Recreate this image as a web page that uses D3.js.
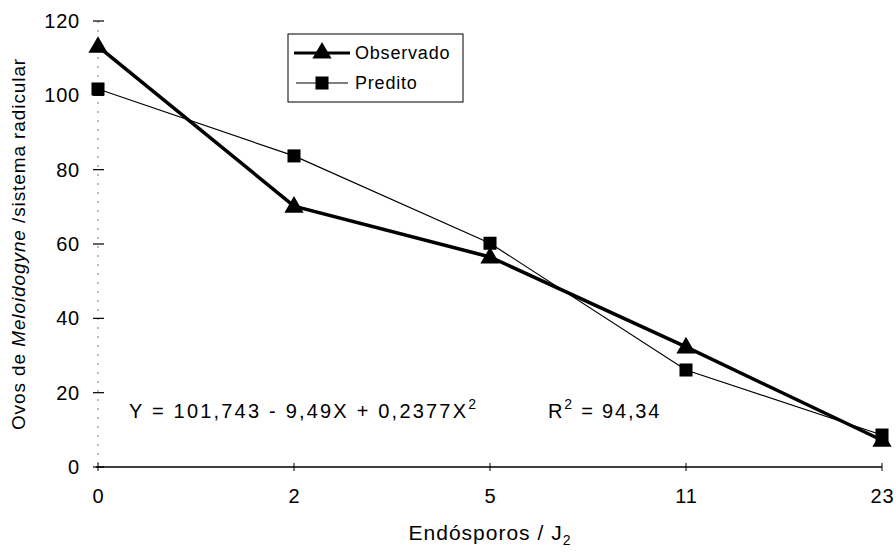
<!DOCTYPE html>
<html>
<head>
<meta charset="utf-8">
<script src="https://cdn.jsdelivr.net/npm/d3@7"></script>
<style>
  body { margin: 0; background: #fff; }
  text { font-family: "Liberation Sans", Arial, sans-serif; fill: #000; }
</style>
</head>
<body>
<div id="chart"></div>
<script>
const categories = ["0", "2", "5", "11", "23"];
const observado = [113.2, 70.2, 56.5, 32.3, 7.2];
const predito = [101.7, 83.7, 60.2, 26.1, 8.6];
const yTicks = [0, 20, 40, 60, 80, 100, 120];

const width = 896, height = 556;
const black = "#000";

const svg = d3.select("#chart").append("svg")
  .attr("width", width)
  .attr("height", height);

const x = d3.scalePoint().domain(categories).range([98, 882]);
const y = d3.scaleLinear().domain([0, 120]).range([467, 21]);

// y axis: faint dotted line with short cross ticks
svg.append("line")
  .attr("x1", x("0")).attr("x2", x("0"))
  .attr("y1", y(120)).attr("y2", y(0))
  .attr("stroke", "#777").attr("stroke-width", 1)
  .attr("stroke-dasharray", "2,7");

const yAxis = svg.append("g")
  .attr("transform", `translate(${x("0")},0)`)
  .call(d3.axisLeft(y).tickValues(yTicks).tickSize(0).tickPadding(18));
yAxis.select(".domain").remove();
yAxis.selectAll("text")
  .attr("font-size", 20).attr("letter-spacing", 0.8)
  .attr("font-family", "Liberation Sans, Arial, sans-serif");
yTicks.forEach(v => {
  svg.append("line")
    .attr("x1", x("0") - 5).attr("x2", x("0") + 6)
    .attr("y1", y(v)).attr("y2", y(v))
    .attr("stroke", black).attr("stroke-width", 1.2);
});

// x axis
const xAxis = svg.append("g")
  .attr("transform", `translate(0,${y(0)})`)
  .call(d3.axisBottom(x).tickSize(0).tickPadding(22));
xAxis.select(".domain").remove();
xAxis.selectAll("text")
  .attr("font-size", 20).attr("letter-spacing", 0.8)
  .attr("font-family", "Liberation Sans, Arial, sans-serif");
svg.append("line")
  .attr("x1", x("0") - 2).attr("x2", x("23"))
  .attr("y1", y(0)).attr("y2", y(0))
  .attr("stroke", black).attr("stroke-width", 1.5);
categories.forEach(c => {
  svg.append("line")
    .attr("x1", x(c)).attr("x2", x(c))
    .attr("y1", y(0) - 4).attr("y2", y(0) + 4)
    .attr("stroke", black).attr("stroke-width", 1);
});

// axis titles
const xt = svg.append("text")
  .attr("x", 490).attr("y", 540)
  .attr("text-anchor", "middle").attr("font-size", 21).attr("letter-spacing", 1);
xt.append("tspan").text("Endósporos / J");
xt.append("tspan").attr("font-size", 14).attr("dy", 5).text("2");

const yt = svg.append("text")
  .attr("transform", "translate(25,244) rotate(-90)")
  .attr("text-anchor", "middle").attr("font-size", 19).attr("letter-spacing", 0.9);
yt.append("tspan").text("Ovos de ");
yt.append("tspan").attr("font-style", "italic").text("Meloidogyne");
yt.append("tspan").text(" /sistema radicular");

// series lines
const line = d3.line().x((d, i) => x(categories[i])).y(d => y(d));

svg.append("path")
  .datum(predito)
  .attr("d", line)
  .attr("fill", "none").attr("stroke", black).attr("stroke-width", 1.2);

svg.append("path")
  .datum(observado)
  .attr("d", line)
  .attr("fill", "none").attr("stroke", black).attr("stroke-width", 3.5);

const square = d3.symbol().type(d3.symbolSquare).size(170);
const triangle = d3.symbol().type(d3.symbolTriangle).size(160);

svg.selectAll("path.sq")
  .data(predito)
  .join("path")
  .attr("class", "sq")
  .attr("d", square)
  .attr("transform", (d, i) => `translate(${x(categories[i])},${y(d)})`)
  .attr("fill", black);

svg.selectAll("path.tri")
  .data(observado)
  .join("path")
  .attr("class", "tri")
  .attr("d", triangle)
  .attr("transform", (d, i) => `translate(${x(categories[i])},${y(d) + 1})`)
  .attr("fill", black);

// legend
const lg = svg.append("g");
lg.append("rect")
  .attr("x", 288).attr("y", 34).attr("width", 175).attr("height", 68)
  .attr("fill", "none").attr("stroke", black).attr("stroke-width", 1);
lg.append("line").attr("x1", 294).attr("x2", 350).attr("y1", 53).attr("y2", 53)
  .attr("stroke", black).attr("stroke-width", 3);
lg.append("path").attr("d", triangle).attr("transform", "translate(322,53)").attr("fill", black);
lg.append("text").attr("x", 355).attr("y", 59).attr("font-size", 18).attr("letter-spacing", 0.8).text("Observado");
lg.append("line").attr("x1", 296).attr("x2", 348).attr("y1", 83).attr("y2", 83)
  .attr("stroke", black).attr("stroke-width", 1.2);
lg.append("path").attr("d", square).attr("transform", "translate(322,83)").attr("fill", black);
lg.append("text").attr("x", 355).attr("y", 89).attr("font-size", 18).attr("letter-spacing", 0.8).text("Predito");

// equation and R2
const eq = svg.append("text").attr("x", 129).attr("y", 418)
  .attr("font-size", 20).attr("letter-spacing", 2.2);
eq.append("tspan").text("Y = 101,743 - 9,49X + 0,2377X");
eq.append("tspan").attr("font-size", 14).attr("dy", -9).text("2");

const r2 = svg.append("text").attr("x", 548).attr("y", 418)
  .attr("font-size", 20).attr("letter-spacing", 1.8);
r2.append("tspan").text("R");
r2.append("tspan").attr("font-size", 14).attr("dy", -9).text("2");
r2.append("tspan").attr("dy", 9).text(" = 94,34");
</script>
</body>
</html>
